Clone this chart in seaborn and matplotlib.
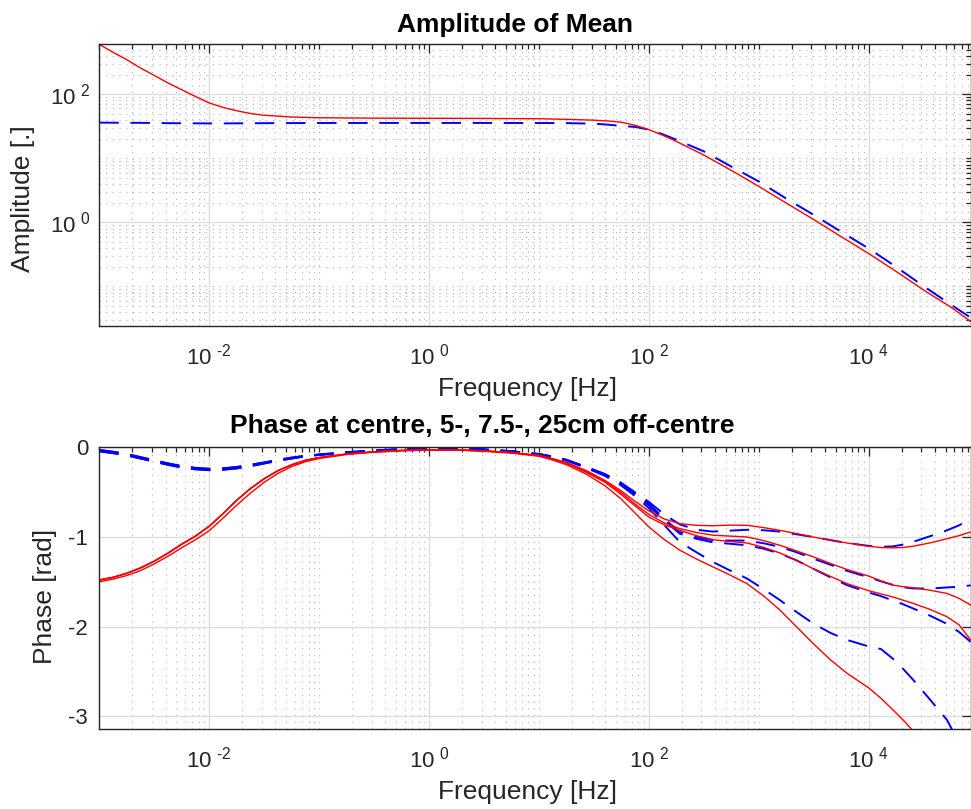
import numpy as np
import pandas as pd
import matplotlib
matplotlib.use("Agg")
import matplotlib.pyplot as plt
import matplotlib.ticker as mticker
import seaborn as sns

# ---------------- data ----------------
amp_freq = [0.001, 0.001334, 0.001778, 0.002371, 0.003162, 0.004217, 0.005623, 0.007499,
            0.01, 0.01334, 0.01778, 0.02371, 0.03162, 0.05623, 0.1, 0.3162, 1.0, 3.162,
            10.0, 17.78, 31.62, 42.17, 56.23, 74.99, 100.0, 133.4, 177.8, 316.2, 562.3,
            1000.0, 1778.0, 3162.0, 5623.0, 10000.0, 17780.0, 31620.0, 56230.0, 84330.0]
amp_red = [603.0, 452.0, 347.0, 257.0, 197.0, 150.0, 117.5, 92.3,
           73.1, 62.4, 55.3, 50.1, 47.0, 44.2, 43.0, 42.4, 42.2, 42.0,
           41.5, 40.6, 39.4, 38.3, 36.6, 32.7, 28.0, 22.9, 18.3, 11.2, 6.46,
           3.63, 1.99, 1.10, 0.594, 0.324, 0.170, 0.0871, 0.0468, 0.0282]
amp_blue = [36.1, 36.0, 35.9, 35.8, 35.6, 35.4, 35.3, 35.2,
            35.1, 35.1, 35.2, 35.3, 35.4, 35.5, 35.6, 35.7, 35.7, 35.7,
            35.6, 35.5, 34.7, 33.6, 32.0, 30.9, 28.0, 23.7, 19.5, 12.8, 7.41,
            4.33, 2.34, 1.30, 0.708, 0.389, 0.200, 0.100, 0.0513, 0.0324]

# phase: low-frequency part (shared shapes) and high-frequency part (per curve)
phase_freq_low = [0.001, 0.001334, 0.001778, 0.002371, 0.003162, 0.004217, 0.005623, 0.007499,
                  0.01, 0.01334, 0.01778, 0.02371, 0.03162, 0.04217, 0.05623, 0.07499,
                  0.1, 0.1778, 0.3162, 0.5623, 1.0, 1.778, 3.162, 5.623]
red_low = [-1.48, -1.45, -1.405, -1.345, -1.27, -1.18, -1.08, -0.99,
           -0.88, -0.74, -0.59, -0.46, -0.35, -0.26, -0.195, -0.145,
           -0.115, -0.075, -0.05, -0.035, -0.03, -0.03, -0.04, -0.06]
red_low_d = [-1.50, -1.47, -1.43, -1.375, -1.30, -1.215, -1.12, -1.03,
             -0.93, -0.79, -0.645, -0.51, -0.39, -0.29, -0.215, -0.16,
             -0.125, -0.08, -0.055, -0.04, -0.03, -0.03, -0.045, -0.065]
blue_low_1 = [-0.03, -0.05, -0.075, -0.11, -0.145, -0.18, -0.21, -0.23,
              -0.24, -0.235, -0.22, -0.195, -0.17, -0.14, -0.115, -0.095,
              -0.08, -0.055, -0.035, -0.02, -0.015, -0.015, -0.025, -0.045]
blue_low_2 = [-0.045, -0.065, -0.09, -0.125, -0.16, -0.195, -0.225, -0.245,
              -0.255, -0.25, -0.235, -0.21, -0.18, -0.15, -0.125, -0.1,
              -0.085, -0.06, -0.04, -0.022, -0.015, -0.015, -0.025, -0.045]

phase_freq_high = [10.0, 13.49, 17.78, 26.92, 39.81, 54.95, 74.13, 100.0, 138.0, 190.5,
                   269.2, 380.2, 537.0, 776.2, 1096.0, 1549.0, 2188.0, 3090.0, 4467.0,
                   6310.0, 10000.0, 12880.0, 16600.0, 20420.0, 25120.0, 36310.0,
                   51290.0, 66070.0, 84330.0]
red_a = [-0.09, -0.13, -0.17, -0.26, -0.37, -0.48, -0.60, -0.71, -0.80, -0.852,
         -0.87, -0.875, -0.868, -0.87, -0.895, -0.926, -0.962, -1.0, -1.035,
         -1.067, -1.104, -1.118, -1.122, -1.117, -1.104, -1.065, -1.02, -0.985, -0.944]
red_b = [-0.09, -0.13, -0.175, -0.27, -0.38, -0.50, -0.63, -0.75, -0.845, -0.907,
         -0.95, -0.98, -0.99, -1.0, -1.04, -1.093, -1.155, -1.22, -1.295,
         -1.363, -1.437, -1.49, -1.537, -1.555, -1.567, -1.595, -1.63, -1.685, -1.76]
red_c = [-0.095, -0.135, -0.18, -0.28, -0.39, -0.52, -0.65, -0.78, -0.865, -0.926,
         -0.985, -1.03, -1.05, -1.067, -1.115, -1.178, -1.26, -1.352, -1.44,
         -1.52, -1.60, -1.635, -1.67, -1.705, -1.74, -1.81, -1.89, -1.98, -2.15]
red_d = [-0.10, -0.145, -0.195, -0.30, -0.43, -0.57, -0.73, -0.89, -1.03, -1.148,
         -1.245, -1.333, -1.42, -1.52, -1.655, -1.815, -2.0, -2.185, -2.37,
         -2.52, -2.685, -2.80, -2.93, -3.04, -3.16, -3.45, -3.8, -4.0, -4.3]
blue_a = [-0.075, -0.105, -0.14, -0.22, -0.30, -0.39, -0.50, -0.61, -0.75, -0.86,
          -0.92, -0.94, -0.93, -0.92, -0.925, -0.94, -0.97, -1.0, -1.035,
          -1.067, -1.10, -1.11, -1.105, -1.085, -1.055, -0.99, -0.926, -0.87, -0.80]
blue_b = [-0.075, -0.105, -0.14, -0.22, -0.30, -0.40, -0.51, -0.63, -0.80, -0.944,
          -1.0, -1.037, -1.04, -1.04, -1.07, -1.11, -1.17, -1.24, -1.31,
          -1.378, -1.45, -1.495, -1.535, -1.56, -1.574, -1.575, -1.563, -1.555, -1.54]
blue_c = [-0.08, -0.11, -0.145, -0.225, -0.31, -0.41, -0.52, -0.65, -0.82, -0.963,
          -1.02, -1.06, -1.075, -1.093, -1.13, -1.185, -1.26, -1.352, -1.45,
          -1.537, -1.62, -1.66, -1.71, -1.75, -1.796, -1.88, -1.97, -2.06, -2.17]
blue_d = [-0.08, -0.11, -0.15, -0.23, -0.32, -0.42, -0.54, -0.68, -0.87, -1.056,
          -1.17, -1.278, -1.37, -1.463, -1.58, -1.704, -1.835, -1.963, -2.07,
          -2.148, -2.222, -2.25, -2.36, -2.47, -2.59, -2.82, -3.04, -3.3, -3.8]

amp_title = "Amplitude of Mean"
phase_title = "Phase at centre, 5-, 7.5-, 25cm off-centre"
x_label = "Frequency [Hz]"
amp_ylabel = "Amplitude [.]"
phase_ylabel = "Phase [rad]"
x_major = [1e-2, 1e0, 1e2, 1e4]
amp_y_major = [1e0, 1e2]
phase_y_major = [0, -1, -2, -3]

# ---------------- style ----------------
sns.set_theme(style="white")
plt.rcParams["font.family"] = ["Liberation Sans", "DejaVu Sans"]
plt.rcParams["mathtext.fontset"] = "custom"
plt.rcParams["mathtext.rm"] = "Liberation Sans"
plt.rcParams["mathtext.it"] = "Liberation Sans:italic"
plt.rcParams["mathtext.bf"] = "Liberation Sans:bold"
plt.rcParams["axes.unicode_minus"] = False

TXT = "#262626"
TICK_FS = 16
LABEL_FS = 19
TITLE_FS = 19

RED_KW = dict(color="#ff0000", linewidth=1.0)
BLUE_KW = dict(color="#0000ff", linewidth=1.4, linestyle=(0, (10, 6)))

fig = plt.figure(figsize=(9.71, 8.09), dpi=100)
ax1 = fig.add_axes([0.1023, 0.5974, 0.8974, 0.3478])
ax2 = fig.add_axes([0.1023, 0.0989, 0.8974, 0.3482])

for ax in (ax1, ax2):
    ax.set_xscale("log")
ax1.set_yscale("log")

# amplitude
sns.lineplot(x=amp_freq, y=amp_blue, ax=ax1, errorbar=None, **BLUE_KW)
sns.lineplot(x=amp_freq, y=amp_red, ax=ax1, errorbar=None, **RED_KW)

# phase
phase_freq = phase_freq_low + phase_freq_high
blue_series = [blue_low_1 + blue_a, blue_low_1 + blue_b,
               blue_low_2 + blue_c, blue_low_2 + blue_d]
red_series = [red_low + red_a, red_low + red_b, red_low + red_c, red_low_d + red_d]
for series in blue_series:
    sns.lineplot(x=phase_freq, y=series, ax=ax2, errorbar=None, **BLUE_KW)
for series in red_series:
    sns.lineplot(x=phase_freq, y=series, ax=ax2, errorbar=None, **RED_KW)

xmin, xmax = 1e-3, 8.43e4
ax1.set_xlim(xmin, xmax)
ax2.set_xlim(xmin, xmax)
ax1.set_ylim(0.0243, 603)
ax2.set_ylim(-np.pi, 0)


def pow_fmt(v, pos):
    e = int(round(np.log10(v)))
    s = r"\text{-}%d" % abs(e) if e < 0 else "%d" % e
    return r"$\mathregular{10^{\;\,%s}}$" % s


for ax in (ax1, ax2):
    ax.xaxis.set_major_locator(mticker.FixedLocator(x_major))
    ax.xaxis.set_minor_locator(mticker.LogLocator(base=10, subs=np.arange(1, 10), numticks=100))
    ax.xaxis.set_major_formatter(mticker.FuncFormatter(pow_fmt))
    ax.xaxis.set_minor_formatter(mticker.NullFormatter())
    ax.tick_params(which="both", direction="in", top=True, right=True,
                   colors=TXT, labelsize=TICK_FS, width=0.9)
    ax.tick_params(which="major", length=6.5)
    ax.tick_params(which="minor", length=3.5)
    ax.tick_params(axis="x", which="major", pad=13)
    for s in ax.spines.values():
        s.set_color(TXT)
        s.set_linewidth(1.0)
    ax.set_axisbelow(True)
    ax.set_xlabel(x_label, fontsize=LABEL_FS, color=TXT, labelpad=5, x=0.491)

ax1.tick_params(axis="y", which="major", pad=6)
ax2.tick_params(axis="y", which="major", pad=8)

ax1.yaxis.set_major_locator(mticker.FixedLocator(amp_y_major))
ax1.yaxis.set_minor_locator(mticker.LogLocator(base=10, subs=np.arange(1, 10), numticks=100))
ax1.yaxis.set_major_formatter(mticker.FuncFormatter(pow_fmt))
ax1.yaxis.set_minor_formatter(mticker.NullFormatter())

ax2.yaxis.set_major_locator(mticker.FixedLocator(phase_y_major))
ax2.yaxis.set_minor_locator(mticker.NullLocator())
ax2.yaxis.set_major_formatter(mticker.FuncFormatter(lambda v, p: "%d" % round(v)))

GRID_MAJ = dict(color="#dedede", linewidth=1.0, linestyle="-")
GRID_MIN = dict(color="#b4b4b4", linewidth=0.8, linestyle=(0, (1, 5)))
ax1.grid(which="major", **GRID_MAJ)
ax1.grid(which="minor", **GRID_MIN)
ax2.grid(which="major", **GRID_MAJ)
ax2.grid(which="minor", axis="x", **GRID_MIN)

ax1.set_ylabel(amp_ylabel, fontsize=LABEL_FS, color=TXT, labelpad=11, y=0.45)
ax2.set_ylabel(phase_ylabel, fontsize=LABEL_FS, color=TXT, labelpad=8, y=0.472)
ax1.set_title(amp_title, fontsize=TITLE_FS, fontweight="bold", color="black", pad=9, x=0.4775)
ax2.set_title(phase_title, fontsize=TITLE_FS, fontweight="bold", color="black", pad=10, x=0.4394)

fig.savefig("out.png", dpi=100)
